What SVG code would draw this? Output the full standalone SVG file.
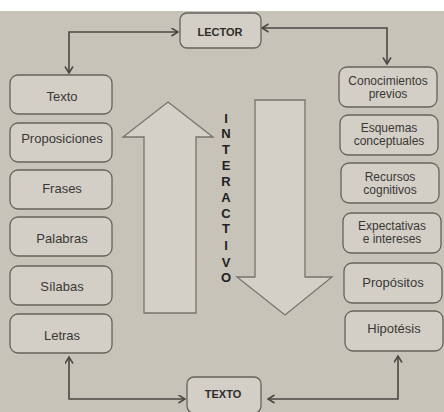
<svg xmlns="http://www.w3.org/2000/svg" width="444" height="412" viewBox="0 0 444 412">
<defs>
<style>
.bg{fill:#c8c3b9}
.box{fill:#d3cfc7;stroke:#66625c;stroke-width:1.3}
.t{font-family:"Liberation Sans",Arial,sans-serif;font-size:13px;fill:#3a3835;text-anchor:middle}
.t2{font-family:"Liberation Sans",Arial,sans-serif;font-size:12px;fill:#3a3835;text-anchor:middle}
.b{font-family:"Liberation Sans",Arial,sans-serif;font-size:11px;font-weight:bold;fill:#2e2c2a;text-anchor:middle}
.v{font-family:"Liberation Sans",Arial,sans-serif;font-size:13px;font-weight:bold;fill:#222;text-anchor:middle}
.big{fill:#d4d0c8;stroke:#77736c;stroke-width:1.3}
.c{fill:none;stroke:#4a4743;stroke-width:1.6}
</style>
<marker id="ah" markerWidth="10" markerHeight="10" refX="7" refY="4.5" orient="auto-start-reverse" markerUnits="userSpaceOnUse">
<path d="M0.5,0.5 L7,4.5 L0.5,8.5" fill="none" stroke="#4a4743" stroke-width="1.5"/>
</marker>
</defs>
<rect class="bg" x="0" y="0" width="444" height="412"/>
<rect x="0" y="0" width="444" height="11" fill="#ffffff"/>

<g id="arrow-up"><polygon class="big" points="168,102 213,137 196,137 196,313 144,313 144,137 123,137"/></g>
<g id="arrow-down"><polygon class="big" points="255,100 305,100 305,277 332,277 285,315 237,277 255,277"/></g>

<g id="interactivo">
<text class="v" x="226" y="123">I</text>
<text class="v" x="226" y="138">N</text>
<text class="v" x="226" y="154">T</text>
<text class="v" x="226" y="170">E</text>
<text class="v" x="226" y="186">R</text>
<text class="v" x="226" y="202">A</text>
<text class="v" x="226" y="218">C</text>
<text class="v" x="226" y="233">T</text>
<text class="v" x="226" y="250">I</text>
<text class="v" x="226" y="267">V</text>
<text class="v" x="226" y="282">O</text>
</g>

<g id="connectors">
<path class="c" d="M178,32 H69 V73" marker-start="url(#ah)" marker-end="url(#ah)"/>
<path class="c" d="M262,28 H387 V64" marker-start="url(#ah)" marker-end="url(#ah)"/>
<path class="c" d="M69,357 V399 H185" marker-start="url(#ah)" marker-end="url(#ah)"/>
<path class="c" d="M268,399 H398 V356" marker-start="url(#ah)" marker-end="url(#ah)"/>
</g>

<g id="lector"><rect class="box" x="180" y="13" width="81" height="35" rx="7"/><text class="b" x="220" y="36">LECTOR</text></g>
<g id="texto"><rect class="box" x="187" y="377" width="74" height="36" rx="7"/><text class="b" x="223" y="398">TEXTO</text></g>

<g id="l-texto"><rect class="box" x="10" y="75" width="102" height="39" rx="8"/><text class="t" x="62" y="100.5">Texto</text></g>
<g id="l-proposiciones"><rect class="box" x="10" y="123" width="102" height="39" rx="8"/><text class="t" x="62" y="142.5">Proposiciones</text></g>
<g id="l-frases"><rect class="box" x="10" y="170" width="102" height="39" rx="8"/><text class="t" x="62" y="192.5">Frases</text></g>
<g id="l-palabras"><rect class="box" x="10" y="217" width="102" height="39" rx="8"/><text class="t" x="62" y="242.5">Palabras</text></g>
<g id="l-silabas"><rect class="box" x="10" y="266" width="102" height="39" rx="8"/><text class="t" x="62" y="290.5">Sílabas</text></g>
<g id="l-letras"><rect class="box" x="10" y="314" width="102" height="39" rx="8"/><text class="t" x="62" y="339.5">Letras</text></g>

<g id="r-conocimientos"><rect class="box" x="339" y="67" width="98" height="40" rx="8"/><text class="t2" x="388" y="85">Conocimientos</text><text class="t2" x="388" y="98">previos</text></g>
<g id="r-esquemas"><rect class="box" x="340" y="115" width="98" height="40" rx="8"/><text class="t2" x="389" y="132">Esquemas</text><text class="t2" x="389" y="145">conceptuales</text></g>
<g id="r-recursos"><rect class="box" x="341" y="163" width="98" height="40" rx="8"/><text class="t2" x="390" y="181">Recursos</text><text class="t2" x="390" y="194">cognitivos</text></g>
<g id="r-expectativas"><rect class="box" x="343" y="213" width="98" height="40" rx="8"/><text class="t2" x="392" y="230">Expectativas</text><text class="t2" x="392" y="243">e intereses</text></g>
<g id="r-propositos"><rect class="box" x="344" y="263" width="98" height="40" rx="8"/><text class="t" x="393" y="286.5">Propósitos</text></g>
<g id="r-hipotesis"><rect class="box" x="345" y="311" width="98" height="40" rx="8"/><text class="t" x="394" y="332.5">Hipotésis</text></g>
</svg>
